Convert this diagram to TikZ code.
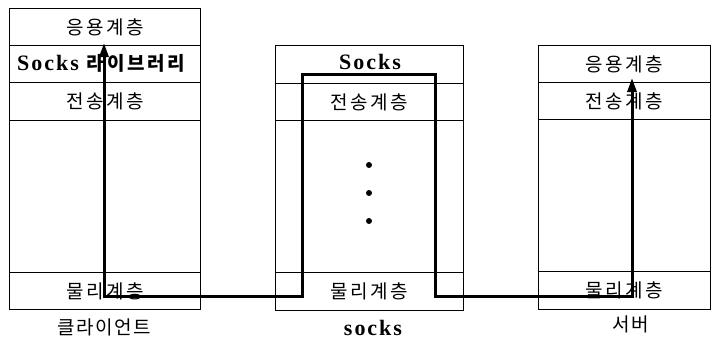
\documentclass[tikz,border=0pt]{standalone}
\usepackage{fontspec}
\usetikzlibrary{arrows.meta}
\newfontfamily\kr[LetterSpace=14]{Noto Sans CJK KR}
\newfontfamily\krl[LetterSpace=8]{Noto Sans CJK KR}
\newfontfamily\krb[LetterSpace=14]{Noto Sans CJK KR Bold}
\newfontfamily\lat[LetterSpace=9]{Liberation Serif}
\begin{document}
\begin{tikzpicture}[x=1pt,y=-1pt,
  cell/.style={draw,line width=0.9pt,inner sep=0pt,anchor=north west},
  txt/.style={font=\kr\fontsize{19}{19}\selectfont},
  lbl/.style={font=\krl\fontsize{19}{19}\selectfont},
  ltxt/.style={font=\lat\bfseries\fontsize{22}{22}\selectfont},
  route/.style={line width=3pt,{Triangle[length=14pt,width=9pt]}-{Triangle[length=14pt,width=9pt]}}]
\useasboundingbox (0,0) rectangle (719,340);
% client
\node[cell,minimum width=191pt,minimum height=37pt] (c1) at (9,8) {};
\node[cell,minimum width=191pt,minimum height=37pt] (c2) at (9,45) {};
\node[cell,minimum width=191pt,minimum height=38pt] (c3) at (9,82) {};
\node[cell,minimum width=191pt,minimum height=152pt] (c4) at (9,120) {};
\node[cell,minimum width=191pt,minimum height=37pt] (c5) at (9,272) {};
\node[txt] (c1t) at (c1.center) {응용계층};
\node[ltxt,anchor=west,inner sep=0pt] (c2t) at (17,63.5) {Socks\hspace{8pt}{\krb\fontsize{19}{19}\selectfont 라이브러리}};
\node[txt] (c3t) at (c3.center) {전송계층};
\node[txt] (c5t) at (c5.center) {물리계층};
\node[lbl] (cl) at (104,327) {클라이언트};
% socks
\node[cell,minimum width=188pt,minimum height=38pt] (s1) at (275,45) {};
\node[cell,minimum width=188pt,minimum height=37pt] (s2) at (275,83) {};
\node[cell,minimum width=188pt,minimum height=152pt] (s3) at (275,120) {};
\node[cell,minimum width=188pt,minimum height=38pt] (s4) at (275,272) {};
\node[ltxt] (s1t) at (370,62) {Socks};
\node[txt] (s2t) at (s2.center) {전송계층};
\node[txt] (s4t) at (s4.center) {물리계층};
\node[ltxt] (sl) at (373,328) {socks};
\foreach \y/\n in {165/d1,193/d2,221/d3}
  \fill (369,\y) circle (3pt) coordinate (\n);
% server
\node[cell,minimum width=172pt,minimum height=37pt] (v1) at (538,45) {};
\node[cell,minimum width=172pt,minimum height=37pt] (v2) at (538,82) {};
\node[cell,minimum width=172pt,minimum height=152pt] (v3) at (538,119) {};
\node[cell,minimum width=172pt,minimum height=38pt] (v4) at (538,271) {};
\node[txt] (v1t) at (v1.center) {응용계층};
\node[txt] (v2t) at (v2.center) {전송계층};
\node[txt] (v4t) at (v4.center) {물리계층};
\node[lbl] (vl) at (631,324) {서버};
% route
\coordinate (p0) at (104,43);
\coordinate (p1) at (104,296);
\coordinate (p2) at (302,296);
\coordinate (p3) at (302,74);
\coordinate (p4) at (435,74);
\coordinate (p5) at (435,296);
\coordinate (p6) at (632,296);
\coordinate (p7) at (632,78);
\draw[route] (p0) -- (p1) -- (p2) -- (p3) -- (p4) -- (p5) -- (p6) -- (p7);
\end{tikzpicture}
\end{document}
